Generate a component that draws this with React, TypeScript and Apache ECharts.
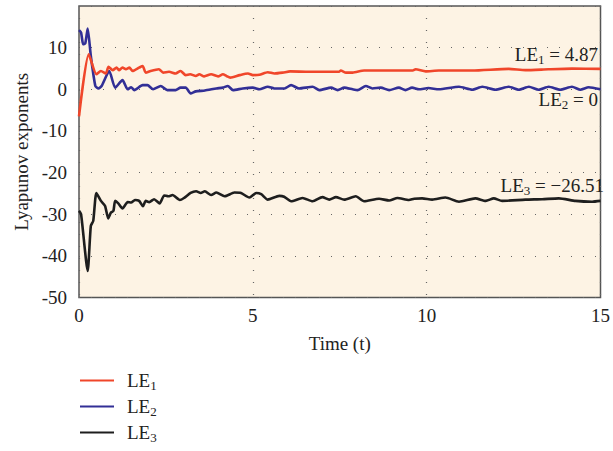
import React, { useEffect, useRef } from "react";
import * as echarts from "echarts";

// [time, value] pairs
const le1: [number, number][] = [
  [0, -6.5], [0.28, 8.4], [0.5, 3.6], [0.63, 4.4], [0.77, 3.8], [0.85, 5.4], [0.97, 4.6],
  [1.08, 5.2], [1.15, 4.6], [1.25, 5.2], [1.35, 4.8], [1.45, 5.2], [1.54, 4.4], [1.73, 5.2],
  [1.83, 5.6], [1.92, 4.0], [2.06, 4.4], [2.3, 4.8], [2.42, 4.0], [2.59, 4.2], [2.78, 3.8],
  [2.92, 4.4], [3.07, 3.4], [3.2, 3.6], [3.36, 3.2], [3.46, 3.6], [3.6, 3.1], [3.8, 3.6],
  [4.0, 3.1], [4.14, 3.6], [4.24, 3.2], [4.35, 2.8], [4.62, 3.4], [4.86, 3.8], [5.0, 3.4],
  [5.19, 3.5], [5.43, 4.1], [5.62, 3.8], [5.86, 4.0], [6.07, 4.3], [6.62, 4.2], [7.48, 4.2],
  [7.53, 4.5], [7.68, 4.0], [7.87, 4.0], [8.2, 4.5], [9.6, 4.5], [9.68, 4.8], [9.97, 4.3],
  [10.35, 4.5], [11.31, 4.5], [12.36, 4.9], [12.84, 4.6], [13.5, 4.8], [14.18, 4.95], [15, 4.9],
];

const le2: [number, number][] = [
  [0, 14.2], [0.06, 13.6], [0.12, 10.8], [0.18, 11], [0.25, 14.6], [0.34, 8.0], [0.47, 0.8],
  [0.56, 0.2], [0.65, 0.8], [0.87, 4.4], [1.04, 0.4], [1.25, 2.2], [1.4, 0], [1.5, 0.5],
  [1.59, -0.2], [1.83, 1.0], [1.97, 1.0], [2.13, 0], [2.35, 0.8], [2.54, -0.2], [2.78, -0.2],
  [2.92, 0.4], [3.07, 0.4], [3.21, -1.0], [3.36, -0.5], [3.62, -0.3], [3.95, 0.2], [4.14, 0.4],
  [4.28, 0.8], [4.43, -0.2], [4.71, 0.2], [5.0, 0.4], [5.19, 0], [5.43, 0.6], [5.62, 0.2],
  [5.91, 0.2], [6.1, 1.0], [6.33, 0.2], [6.72, 0.6], [6.91, -0.2], [7.25, 0.4], [7.44, -0.2],
  [7.63, 0.4], [7.87, 0], [8.01, -0.2], [8.25, 0.8], [8.44, 0.2], [8.68, 0.4], [8.92, -0.2],
  [9.2, 0.4], [9.39, -0.2], [9.58, 0.4], [9.78, 0], [10.05, 0.3], [10.35, 0.0], [10.93, 0.6],
  [11.31, -0.1], [11.6, 0.6], [11.98, -0.1], [12.36, 0.6], [12.65, -0.1], [12.94, 0.6],
  [13.22, -0.1], [13.51, 0.6], [13.84, -0.1], [14.18, 0.6], [14.42, -0.1], [14.66, 0.5], [15, 0.0],
];

const le3: [number, number][] = [
  [0, -29.2], [0.06, -30.0], [0.25, -43.6], [0.34, -32.8], [0.41, -31.6], [0.5, -24.9],
  [0.63, -26.8], [0.75, -28.0], [0.84, -31.0], [0.92, -29.6], [0.99, -29.2], [1.04, -26.8],
  [1.13, -27.4], [1.25, -28.6], [1.4, -27.1], [1.5, -27.2], [1.61, -26.6], [1.73, -26.8],
  [1.84, -28.1], [1.92, -26.8], [2.02, -27.1], [2.16, -26.4], [2.32, -27.4], [2.45, -25.5],
  [2.57, -25.7], [2.69, -25.4], [2.9, -26.6], [3.02, -26.1], [3.21, -24.9], [3.37, -24.5],
  [3.5, -24.9], [3.62, -24.5], [3.8, -25.4], [3.95, -24.8], [4.19, -25.7], [4.47, -24.8],
  [4.66, -24.9], [4.9, -26.0], [5.1, -24.9], [5.24, -25.2], [5.43, -26.5], [5.76, -25.6],
  [5.9, -25.8], [6.1, -26.9], [6.43, -26.1], [6.72, -26.9], [7.0, -25.9], [7.2, -26.5],
  [7.39, -25.9], [7.63, -26.5], [7.96, -25.7], [8.2, -26.9], [8.63, -26.3], [8.92, -26.7],
  [9.16, -26.1], [9.49, -26.6], [9.64, -26.3], [9.87, -26.2], [10.16, -26.5], [10.54, -26.0],
  [10.93, -27.0], [11.4, -26.2], [11.7, -26.8], [11.93, -26.2], [12.17, -26.8], [12.84, -26.5],
  [13.32, -26.4], [13.8, -26.2], [14.28, -26.8], [14.76, -27.0], [15, -26.8],
];

const seriesNames = ["LE1", "LE2", "LE3"];
const seriesColors = ["#f0462a", "#322f96", "#1e1e1e"];
const annotations = ["LE{s|1} = 4.87", "LE{s|2} = 0", "LE{s|3} = \u221226.51"];

const FONT = "'Liberation Serif', 'DejaVu Serif', serif";
const FS = 19;

export default function App() {
  const ref = useRef<HTMLDivElement>(null);
  useEffect(() => {
    if (!ref.current) return;
    const chart = echarts.init(ref.current, null, { renderer: "svg" });
    const rich = {
      s: { fontSize: 13, verticalAlign: "bottom", padding: [9, 0, 0, 0], fontFamily: FONT, color: "#222" },
    };
    const data = [le1, le2, le3];
    chart.setOption({
      animation: false,
      textStyle: { fontFamily: FONT },
      grid: {
        left: 79, right: 11, top: 6, bottom: 153.5,
        show: true, backgroundColor: "#fdf3e4", borderColor: "#555", borderWidth: 1.5,
      },
      legend: {
        orient: "vertical", left: 80, top: 371, padding: 0,
        itemWidth: 34, itemHeight: 2, itemGap: 5.5, icon: "rect",
        data: seriesNames,
        formatter: (n: string) => "LE{s|" + n.slice(2) + "}",
        textStyle: { fontSize: FS, color: "#222", fontFamily: FONT, rich, padding: [0, 0, 0, 8] },
      },
      xAxis: {
        type: "value", min: 0, max: 15, interval: 5,
        name: "Time (t)", nameLocation: "middle", nameGap: 36,
        nameTextStyle: { fontSize: FS, color: "#222", fontFamily: FONT },
        axisLine: { show: false }, axisTick: { show: false },
        axisLabel: { fontSize: FS, color: "#222", fontFamily: FONT, margin: 8 },
        splitLine: { show: true, lineStyle: { color: "#666", type: [1, 11], width: 1.2 } },
      },
      yAxis: {
        type: "value", min: -50, max: 20, interval: 10,
        name: "Lyapunov exponents", nameLocation: "middle", nameGap: 47,
        nameTextStyle: { fontSize: FS, color: "#222", fontFamily: FONT },
        axisLine: { show: false }, axisTick: { show: false },
        axisLabel: {
          fontSize: FS, color: "#222", fontFamily: FONT, margin: 12,
          formatter: (v: number) => (v === 20 ? "" : String(v)),
        },
        splitLine: { show: true, lineStyle: { color: "#666", type: [1, 11], width: 1.2 } },
      },
      graphic: [
        { type: "text", right: 15, top: 45, style: { text: annotations[0], fontSize: FS, fill: "#222", fontFamily: FONT, rich } },
        { type: "text", right: 15, top: 90, style: { text: annotations[1], fontSize: FS, fill: "#222", fontFamily: FONT, rich } },
        { type: "text", right: 9, top: 176, style: { text: annotations[2], fontSize: FS, fill: "#222", fontFamily: FONT, rich } },
      ],
      series: data.map((d, i) => ({
        name: seriesNames[i],
        type: "line",
        data: d,
        symbol: "none",
        smooth: 0.2,
        z: 3 - i,
        lineStyle: { color: seriesColors[i], width: 2.6 },
        itemStyle: { color: seriesColors[i] },
      })),
    });
    return () => chart.dispose();
  }, []);
  return <div ref={ref} style={{ position: "absolute", left: 0, top: 0, width: 613, height: 451 }} />;
}
